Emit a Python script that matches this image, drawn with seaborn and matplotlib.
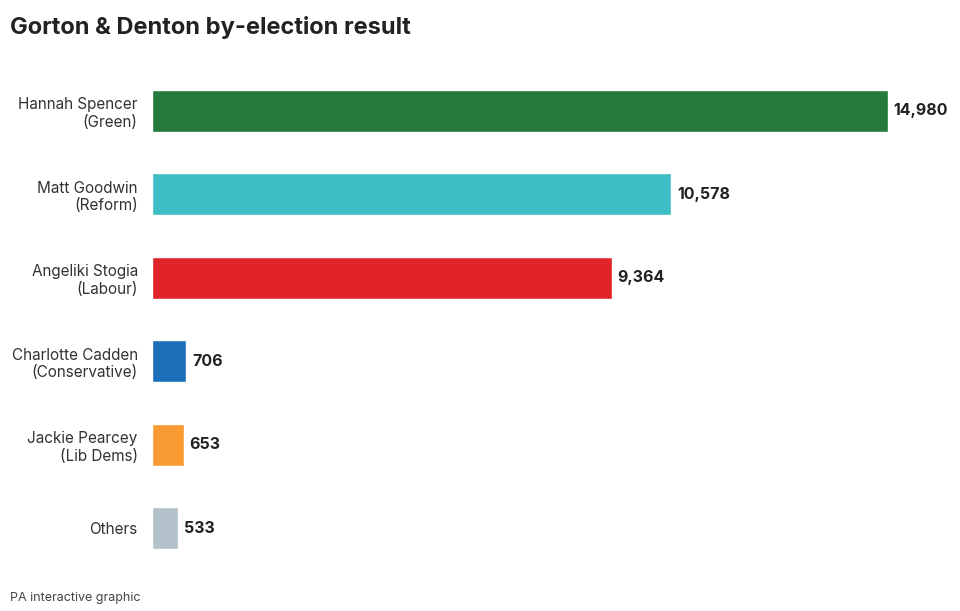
import seaborn as sns
import matplotlib.pyplot as plt
import pandas as pd

candidates = ["Hannah Spencer\n(Green)", "Matt Goodwin\n(Reform)", "Angeliki Stogia\n(Labour)",
              "Charlotte Cadden\n(Conservative)", "Jackie Pearcey\n(Lib Dems)", "Others"]
votes = [14980, 10578, 9364, 706, 653, 533]
colors = ["#237a3b", "#3bbfc4", "#e0242a", "#1a6fb8", "#f99a32", "#b3c2ca"]

df = pd.DataFrame({"candidate": candidates, "votes": votes})

sns.set_style("white")
plt.rcParams['font.family'] = ['Inter', 'DejaVu Sans']

fig = plt.figure(figsize=(9.6, 6.11), dpi=100)
ax = fig.add_axes([0.158, 0.067, 0.819, 0.82])
sns.barplot(data=df, x="votes", y="candidate", hue="candidate", palette=colors,
            legend=False, width=0.5, ax=ax, saturation=1)
ax.set_xlim(0, 16000)
ax.set_xlabel("")
ax.set_ylabel("")
ax.set_xticks([])
ax.tick_params(axis="y", length=0, pad=10, labelsize=11, labelcolor="#333333")
for lbl in ax.get_yticklabels():
    lbl.set_horizontalalignment("right")
for s in ax.spines.values():
    s.set_visible(False)
for i, v in enumerate(votes):
    ax.text(v + 120, i, f"{v:,}", va="center", ha="left", fontsize=11.5,
            fontweight="bold", color="#222222")

fig.text(0.01, 0.955, "Gorton & Denton by-election result", fontsize=17,
         fontweight="bold", color="#222222", va="center")
fig.text(0.01, 0.022, "PA interactive graphic", fontsize=9, color="#444444", va="center")

fig.savefig("out.png")
